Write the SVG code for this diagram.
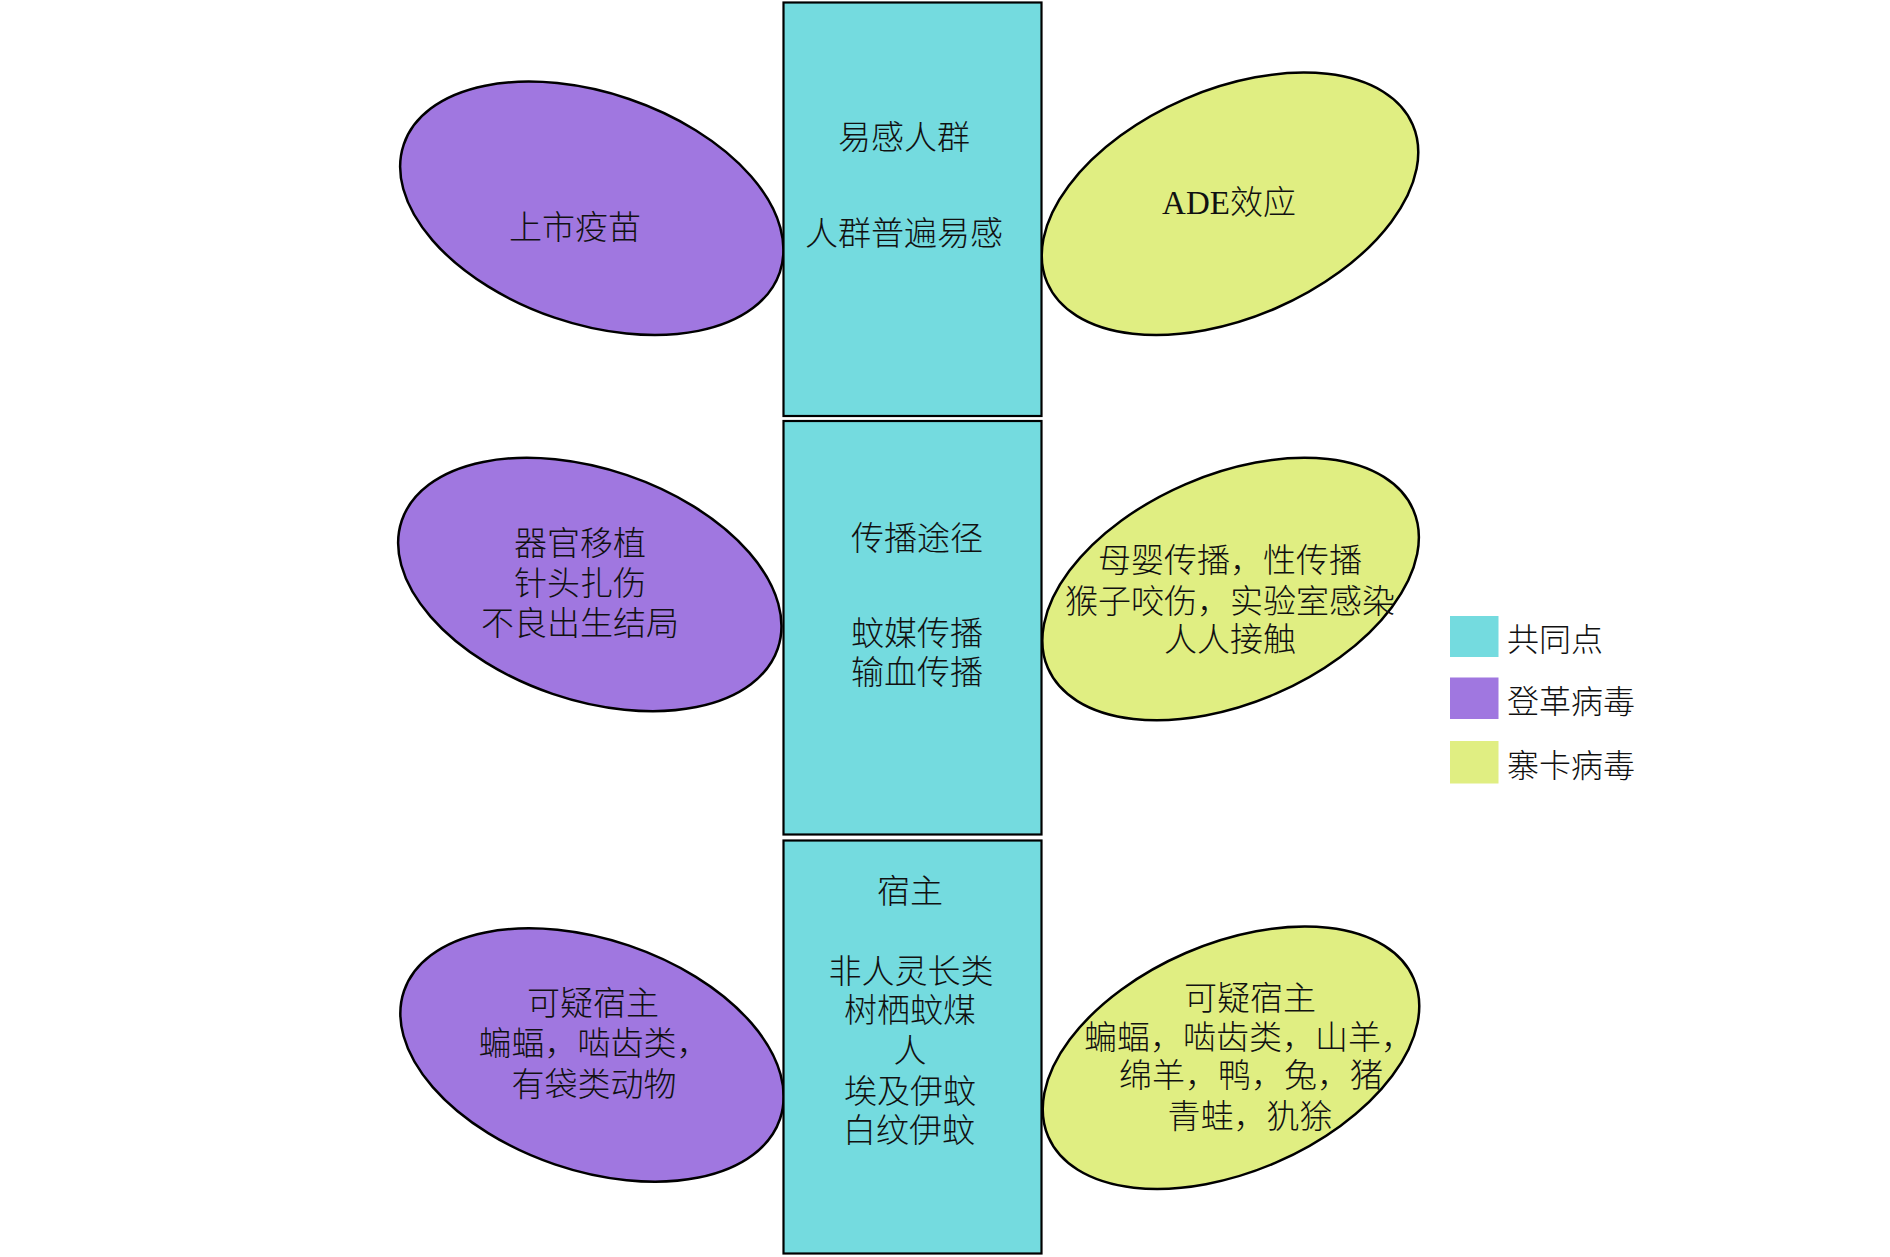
<svg xmlns="http://www.w3.org/2000/svg" width="1890" height="1257" viewBox="0 0 1890 1257">
<style>
.bg{fill:#ffffff}
.box{fill:#74DBDF;stroke:#000;stroke-width:2.2}
.den{fill:#A077E0;stroke:#000;stroke-width:2.5}
.zika{fill:#E0EE82;stroke:#000;stroke-width:2.5}
.t{font-family:"Liberation Serif","Noto Sans CJK SC",serif;font-size:33px;font-weight:300;fill:#111;text-anchor:middle}
.lg{font-family:"Liberation Serif","Noto Sans CJK SC",serif;font-size:32px;font-weight:300;fill:#111}
</style>
<rect class="bg" x="0" y="0" width="1890" height="1257"/>
<g id="connectors"></g>

<g id="dengue-vaccine">
<ellipse class="den" cx="0" cy="0" rx="198.6" ry="115.5" transform="translate(591.8 208.3) rotate(18.8)"/>
<text class="t" x="575" y="239">上市疫苗</text>
</g>
<g id="dengue-transmission">
<ellipse class="den" cx="0" cy="0" rx="198.6" ry="115.5" transform="translate(589.8 584.5) rotate(18.8)"/>
<text class="t" x="580" y="555">器官移植</text>
<text class="t" x="580" y="595">针头扎伤</text>
<text class="t" x="580" y="635">不良出生结局</text>
</g>
<g id="dengue-host">
<ellipse class="den" cx="0" cy="0" rx="198.6" ry="115.5" transform="translate(592 1055) rotate(18.8)"/>
<text class="t" x="593" y="1015">可疑宿主</text>
<text class="t" x="594" y="1055">蝙蝠，啮齿类，</text>
<text class="t" x="594" y="1096">有袋类动物</text>
</g>

<g id="zika-ade">
<ellipse class="zika" cx="0" cy="0" rx="199.1" ry="114.1" transform="translate(1230 203.8) rotate(-23.4)"/>
<text class="t" x="1229" y="214">ADE效应</text>
</g>
<g id="zika-transmission">
<ellipse class="zika" cx="0" cy="0" rx="199.1" ry="114.1" transform="translate(1230.6 589) rotate(-23.4)"/>
<text class="t" x="1230" y="572">母婴传播，性传播</text>
<text class="t" x="1230" y="613">猴子咬伤，实验室感染</text>
<text class="t" x="1230" y="651">人人接触</text>
</g>
<g id="zika-host">
<ellipse class="zika" cx="0" cy="0" rx="199.1" ry="114.1" transform="translate(1231 1057.7) rotate(-23.4)"/>
<text class="t" x="1250" y="1010">可疑宿主</text>
<text class="t" x="1249" y="1049">蝙蝠，啮齿类，山羊，</text>
<text class="t" x="1251" y="1087">绵羊，鸭，兔，猪</text>
<text class="t" x="1250" y="1128">青蛙，犰狳</text>
</g>

<g id="common-susceptible">
<rect class="box" x="783.5" y="2.5" width="258" height="413.5"/>
<text class="t" x="904" y="149">易感人群</text>
<text class="t" x="904" y="245">人群普遍易感</text>
</g>
<g id="common-transmission">
<rect class="box" x="783.5" y="421" width="258" height="413.5"/>
<text class="t" x="917" y="550">传播途径</text>
<text class="t" x="917" y="645">蚊媒传播</text>
<text class="t" x="917" y="684">输血传播</text>
</g>
<g id="common-host">
<rect class="box" x="783.5" y="840.5" width="258" height="413"/>
<text class="t" x="910" y="903">宿主</text>
<text class="t" x="911" y="983">非人灵长类</text>
<text class="t" x="910" y="1022">树栖蚊煤</text>
<text class="t" x="910" y="1062">人</text>
<text class="t" x="910" y="1103">埃及伊蚊</text>
<text class="t" x="909" y="1142">白纹伊蚊</text>
</g>

<g id="legend">
<g id="legend-common">
<rect x="1450" y="616" width="48.5" height="41" fill="#74DBDF"/>
<text class="lg" x="1507" y="651">共同点</text>
</g>
<g id="legend-dengue">
<rect x="1450" y="677.5" width="48.5" height="41.5" fill="#A077E0"/>
<text class="lg" x="1507" y="713">登革病毒</text>
</g>
<g id="legend-zika">
<rect x="1450" y="741" width="48.5" height="42.5" fill="#E0EE82"/>
<text class="lg" x="1507" y="777">寨卡病毒</text>
</g>
</g>
</svg>
